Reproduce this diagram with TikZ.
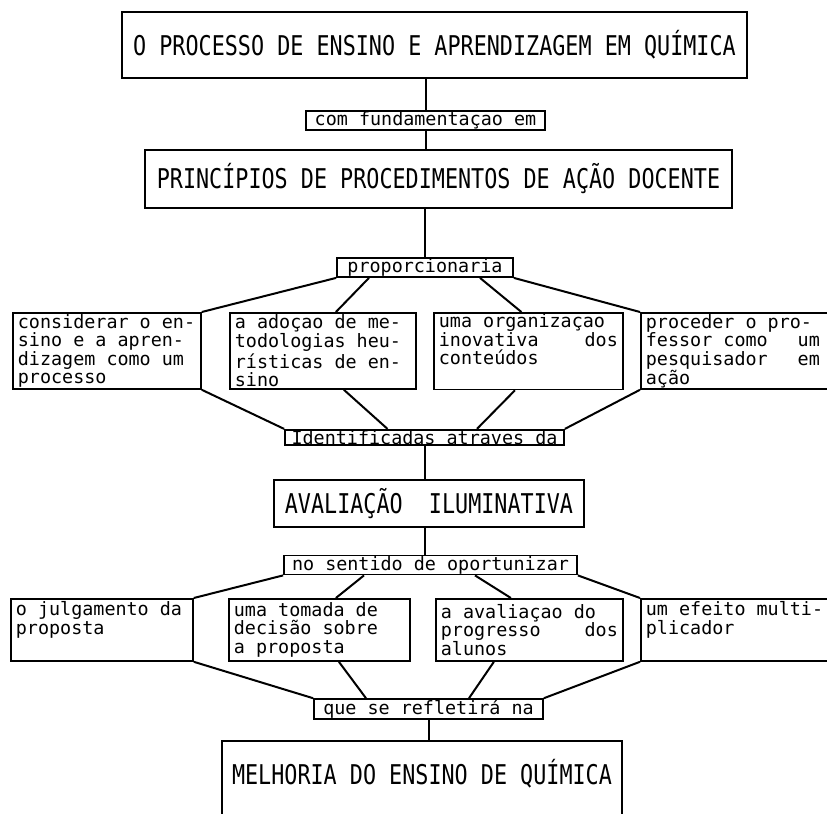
\documentclass[tikz,border=0pt]{standalone}
\usepackage{fontspec}
\setmonofont{DejaVu Sans Mono}
\newfontfamily\headfont[FakeStretch=0.8]{DejaVu Sans Mono}
\usetikzlibrary{calc}

\begin{document}
\begin{tikzpicture}[x=0.5pt, y=-0.5pt,
  box/.style={draw, line width=0.9pt, text=black},
  head/.style={box, inner xsep=4pt, inner ysep=0pt, font=\headfont\fontsize{13.6}{13.6}\selectfont},
  lbl/.style={box, inner xsep=3pt, inner ysep=0.3pt, font=\ttfamily\fontsize{9.2}{9.3}\selectfont},
  cell/.style={box, anchor=north west, align=flush left, inner xsep=2.5pt, inner ysep=0.3pt,
               font=\ttfamily\fontsize{9.2}{9.3}\selectfont},
  wire/.style={line width=1pt}
]
\useasboundingbox (0,0) rectangle (827,814);

\node[head, minimum width=312.5pt, minimum height=33pt] (proc) at (434.5,45)
  {O PROCESSO DE ENSINO E APRENDIZAGEM EM QUÍMICA};
\node[lbl, minimum width=119.5pt] (fund) at (425.5,120.5) {com fundamentaçao em};
\node[head, minimum width=293.5pt, minimum height=29pt] (princ) at (438.5,179)
  {PRINCÍPIOS DE PROCEDIMENTOS DE AÇÃO DOCENTE};
\node[lbl, minimum width=88pt] (prop) at (425,267.5) {proporcionaria};

\node[cell, text width=89pt, minimum height=38pt] (c1) at (12,312)
  {considerar o en-\\sino e a apren-\\dizagem como um\\processo};
\node[cell, text width=88pt, minimum height=38pt] (c2) at (229,312)
  {a adoçao de me-\\todologias heu-\\rísticas de en-\\sino};
\node[cell, text width=89.5pt, minimum height=38pt] (c3) at (433,312)
  {uma organizaçao\\inovativa\hfill dos\\conteúdos\\\strut};
\node[cell, text width=95pt, minimum height=38pt] (c4) at (640,312)
  {proceder o pro-\\fessor como\hfill um\kern8pt\mbox{}\\pesquisador\hfill em\kern8pt\mbox{}\\ação};

\draw[wire] (fund.north) -- (fund.north |- proc.south);
\draw[wire] (fund.south) -- (fund.south |- princ.north);
\draw[wire] (prop.north) -- (prop.north |- princ.south);

\draw[wire] (prop.south west) -- (c1.north east);
\draw[wire] ($(prop.south)+(-56,0)$) -- ($(c2.north)+(13,0)$);
\draw[wire] ($(prop.south)+(55,0)$) -- ($(c3.north)+(-7,0)$);
\draw[wire] (prop.south east) -- (c4.north west);

\node[lbl, minimum width=139.5pt] (ident) at (424.5,437.5) {Identificadas atraves da};

\draw[wire] (c1.south east) -- (ident.north west);
\draw[wire] ($(c2.south)+(21,0)$) -- ($(ident.north)+(-37,0)$);
\draw[wire] ($(c3.south)+(-13.5,0)$) -- ($(ident.north)+(52.5,0)$);
\draw[wire] (c4.south west) -- (ident.north east);

\node[head, minimum width=155pt, minimum height=23.5pt] (aval) at (429,503.5)
  {AVALIAÇÃO\ \ ILUMINATIVA};
\node[lbl, minimum width=146.5pt] (opor) at (430.5,565) {no sentido de oportunizar};

\draw[wire] (ident.south) -- (ident.south |- aval.north);
\draw[wire] (ident.south |- aval.south) -- (ident.south |- opor.north);

\node[cell, text width=86pt, minimum height=31pt] (d1) at (10,598)
  {o julgamento da\\proposta\\\strut};
\node[cell, text width=85.5pt, minimum height=31pt] (d2) at (228,598)
  {uma tomada de\\decisão sobre\\a proposta};
\node[cell, text width=88.5pt, minimum height=31pt] (d3) at (435,598)
  {a avaliaçao do\\progresso\hfill dos\\alunos};
\node[cell, text width=95pt, minimum height=31pt] (d4) at (640,598)
  {um efeito multi-\\plicador\\\strut};

\draw[wire] (opor.south west) -- (d1.north east);
\draw[wire] ($(opor.south)+(-66.5,0)$) -- ($(d2.north)+(16.5,0)$);
\draw[wire] ($(opor.south)+(44.5,0)$) -- ($(d3.north)+(-18.5,0)$);
\draw[wire] (opor.south east) -- (d4.north west);

\node[lbl, minimum width=114.5pt] (refl) at (428.5,709) {que se refletirá na};

\draw[wire] (d1.south east) -- (refl.north west);
\draw[wire] ($(d2.south)+(19.5,0)$) -- ($(refl.north)+(-62.5,0)$);
\draw[wire] ($(d3.south)+(-35.5,0)$) -- ($(refl.north)+(40.5,0)$);
\draw[wire] (d4.south west) -- (refl.north east);

\node[head, anchor=north, minimum width=200pt, text height=22pt, text depth=26pt] (melh) at (422,740)
  {MELHORIA DO ENSINO DE QUÍMICA};

\draw[wire] (refl.south) -- (refl.south |- melh.north);
\end{tikzpicture}
\end{document}
